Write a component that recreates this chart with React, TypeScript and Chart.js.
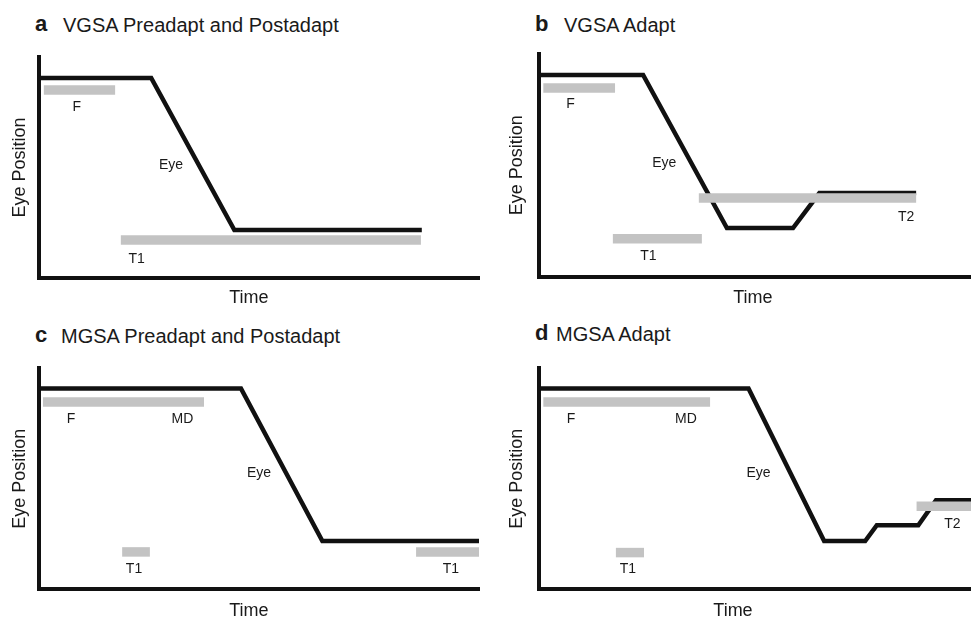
import React, { useEffect, useRef } from 'react';
import { Chart, registerables } from 'chart.js';

Chart.register(...registerables);

// ---------- Panel a: VGSA Preadapt and Postadapt ----------
const aEyeTime = [0, 25.5, 44.4, 87];
const aEyePos = [90.5, 90.5, 21.7, 21.7];
const aBarStart = [1.1, 18.6];
const aBarEnd = [17.3, 86.8];
const aBarPos = [85.1, 17.2];
const aLabelText = ['F', 'Eye', 'T1'];
const aLabelTime = [8.6, 30, 22.2];
const aLabelPos = [77.4, 50.9, 8.6];

// ---------- Panel b: VGSA Adapt ----------
const bEyeTime = [0, 24.1, 43.5, 58.8, 64.9, 87.3];
const bEyePos = [90.6, 90.6, 21.8, 21.8, 37.5, 37.5];
const bBarStart = [1.0, 37.0, 17.1];
const bBarEnd = [17.6, 87.3, 37.7];
const bBarPos = [84.7, 35.3, 17.0];
const bLabelText = ['F', 'Eye', 'T2', 'T1'];
const bLabelTime = [7.3, 29.0, 85.0, 25.3];
const bLabelPos = [77.5, 51.0, 26.8, 9.2];

// ---------- Panel c: MGSA Preadapt and Postadapt ----------
const cEyeTime = [0, 45.9, 64.4, 100];
const cEyePos = [90.9, 90.9, 21.7, 21.7];
const cBarStart = [0.9, 18.9, 85.7];
const cBarEnd = [37.5, 25.2, 100];
const cBarPos = [84.7, 16.8, 16.8];
const cLabelText = ['F', 'MD', 'Eye', 'T1', 'T1'];
const cLabelTime = [7.3, 32.6, 50.0, 21.6, 93.6];
const cLabelPos = [76.9, 76.9, 52.3, 8.8, 8.8];

// ---------- Panel d: MGSA Adapt ----------
const dEyeTime = [0, 48.5, 66.0, 75.5, 78.2, 87.8, 91.9, 100];
const dEyePos = [90.9, 90.9, 21.7, 21.7, 28.9, 28.9, 40.2, 40.2];
const dBarStart = [1.0, 17.8, 87.4];
const dBarEnd = [39.6, 24.3, 100];
const dBarPos = [84.7, 16.5, 37.5];
const dLabelText = ['F', 'MD', 'Eye', 'T1', 'T2'];
const dLabelTime = [7.4, 34.0, 50.8, 20.6, 95.7];
const dLabelPos = [76.9, 76.9, 52.3, 8.8, 29.2];

const panelLetters = ['a', 'b', 'c', 'd'];
const panelTitles = [
  'VGSA Preadapt and Postadapt',
  'VGSA Adapt',
  'MGSA Preadapt and Postadapt',
  'MGSA Adapt',
];
const xAxisTitle = 'Time';
const yAxisTitle = 'Eye Position';
const timeTitleX = [47.7, 49.5, 47.7, 44.9];

const FONT = '"Liberation Sans", Arial, Helvetica, sans-serif';
const BAR_COLOR = '#c3c3c3';
const INK = '#111111';

type PanelData = {
  eyeT: number[];
  eyeP: number[];
  barS: number[];
  barE: number[];
  barP: number[];
  lt: string[];
  lx: number[];
  ly: number[];
};

const panelData: PanelData[] = [
  { eyeT: aEyeTime, eyeP: aEyePos, barS: aBarStart, barE: aBarEnd, barP: aBarPos, lt: aLabelText, lx: aLabelTime, ly: aLabelPos },
  { eyeT: bEyeTime, eyeP: bEyePos, barS: bBarStart, barE: bBarEnd, barP: bBarPos, lt: bLabelText, lx: bLabelTime, ly: bLabelPos },
  { eyeT: cEyeTime, eyeP: cEyePos, barS: cBarStart, barE: cBarEnd, barP: cBarPos, lt: cLabelText, lx: cLabelTime, ly: cLabelPos },
  { eyeT: dEyeTime, eyeP: dEyePos, barS: dBarStart, barE: dBarEnd, barP: dBarPos, lt: dLabelText, lx: dLabelTime, ly: dLabelPos },
];

// layout (canvas boxes, paddings)
const layouts = [
  { left: 0, top: 40, w: 490, h: 275, pad: { top: 17, right: 11, bottom: 37 }, yPt: 9.2, yPb: 8.2, timeDy: 20.5 },
  { left: 490, top: 40, w: 481, h: 275, pad: { top: 14, right: 0, bottom: 38.5 }, yPt: 16, yPb: 11.4, timeDy: 22 },
  { left: 0, top: 350, w: 490, h: 269, pad: { top: 18.3, right: 11, bottom: 30 }, yPt: 9.2, yPb: 8.2, timeDy: 22.5 },
  { left: 490, top: 350, w: 481, h: 269, pad: { top: 18.3, right: 0, bottom: 30 }, yPt: 16, yPb: 11.4, timeDy: 22.5 },
];

const titlePos = [
  { lx: 35, tx: 63, base: 32 },
  { lx: 535, tx: 564, base: 32 },
  { lx: 35, tx: 61, base: 343 },
  { lx: 535, tx: 556, base: 341 },
];

const textPlugin = {
  id: 'panelText',
  afterDatasetsDraw(chart: any, _args: any, opts: any) {
    const { ctx, chartArea, scales } = chart;
    const x = scales.x;
    const y = scales.y;
    ctx.save();
    ctx.fillStyle = '#1a1a1a';
    ctx.textAlign = 'center';
    ctx.textBaseline = 'middle';
    ctx.font = `14px ${FONT}`;
    (opts.texts || []).forEach((t: string, i: number) => {
      ctx.fillText(t, x.getPixelForValue(opts.xs[i]), y.getPixelForValue(opts.ys[i]));
    });
    ctx.font = `18px ${FONT}`;
    ctx.fillText(opts.timeText, x.getPixelForValue(opts.timeX), chartArea.bottom + opts.timeDy);
    ctx.restore();
  },
};

function Panel({ idx }: { idx: number }) {
  const ref = useRef<HTMLCanvasElement | null>(null);
  const d = panelData[idx];
  const L = layouts[idx];

  useEffect(() => {
    if (!ref.current) return;
    const bars = d.barS.map((s, i) => ({
      type: 'line' as const,
      data: [
        { x: s, y: d.barP[i] },
        { x: d.barE[i], y: d.barP[i] },
      ],
      borderColor: BAR_COLOR,
      borderWidth: 9.5,
      borderCapStyle: 'butt' as const,
      pointRadius: 0,
      fill: false,
      clip: false as any,
    }));
    const eye = {
      type: 'line' as const,
      data: d.eyeT.map((t, i) => ({ x: t, y: d.eyeP[i] })),
      borderColor: INK,
      borderWidth: 4.5,
      borderCapStyle: 'butt' as const,
      borderJoinStyle: 'miter' as const,
      pointRadius: 0,
      fill: false,
      tension: 0,
      clip: false as any,
    };
    const chart = new Chart(ref.current, {
      type: 'line',
      data: { datasets: [...bars, eye] as any },
      options: {
        animation: false,
        responsive: false,
        devicePixelRatio: 1,
        events: [],
        layout: { padding: { left: 0, top: L.pad.top, right: L.pad.right, bottom: L.pad.bottom } },
        plugins: {
          legend: { display: false },
          tooltip: { enabled: false },
          title: { display: false },
          panelText: {
            texts: d.lt,
            xs: d.lx,
            ys: d.ly,
            timeText: xAxisTitle,
            timeX: timeTitleX[idx],
            timeDy: L.timeDy,
          },
        } as any,
        scales: {
          x: {
            type: 'linear',
            min: 0,
            max: 100,
            grid: { display: false, drawTicks: false },
            ticks: { display: false },
            border: { display: true, color: INK, width: 4 },
            title: { display: false },
          },
          y: {
            type: 'linear',
            min: 0,
            max: 100,
            grid: { display: false, drawTicks: false },
            ticks: { display: false },
            border: { display: true, color: INK, width: 4 },
            title: {
              display: true,
              text: yAxisTitle,
              color: '#1a1a1a',
              font: { size: 18, family: FONT, lineHeight: 1.2 },
              padding: { top: L.yPt, bottom: L.yPb },
            },
          },
        },
      },
      plugins: [textPlugin],
    });
    return () => chart.destroy();
  }, [idx]);

  return (
    <div style={{ position: 'absolute', left: L.left, top: L.top, width: L.w, height: L.h }}>
      <canvas ref={ref} width={L.w} height={L.h} style={{ display: 'block', width: L.w, height: L.h }} />
    </div>
  );
}

export default function App() {
  return (
    <div
      style={{
        position: 'fixed',
        left: 0,
        top: 0,
        width: 971,
        height: 619,
        background: '#ffffff',
        overflow: 'hidden',
        fontFamily: FONT,
        color: '#1a1a1a',
      }}
    >
      {panelLetters.map((letter, i) => (
        <React.Fragment key={letter}>
          <span
            style={{
              position: 'absolute',
              left: titlePos[i].lx,
              top: titlePos[i].base - 18.6,
              fontSize: 22,
              lineHeight: '22px',
              fontWeight: 'bold',
              whiteSpace: 'nowrap',
            }}
          >
            {letter}
          </span>
          <span
            style={{
              position: 'absolute',
              left: titlePos[i].tx,
              top: titlePos[i].base - 16.9,
              fontSize: 20,
              lineHeight: '20px',
              whiteSpace: 'nowrap',
            }}
          >
            {panelTitles[i]}
          </span>
        </React.Fragment>
      ))}
      {panelLetters.map((_, i) => (
        <Panel key={i} idx={i} />
      ))}
    </div>
  );
}
